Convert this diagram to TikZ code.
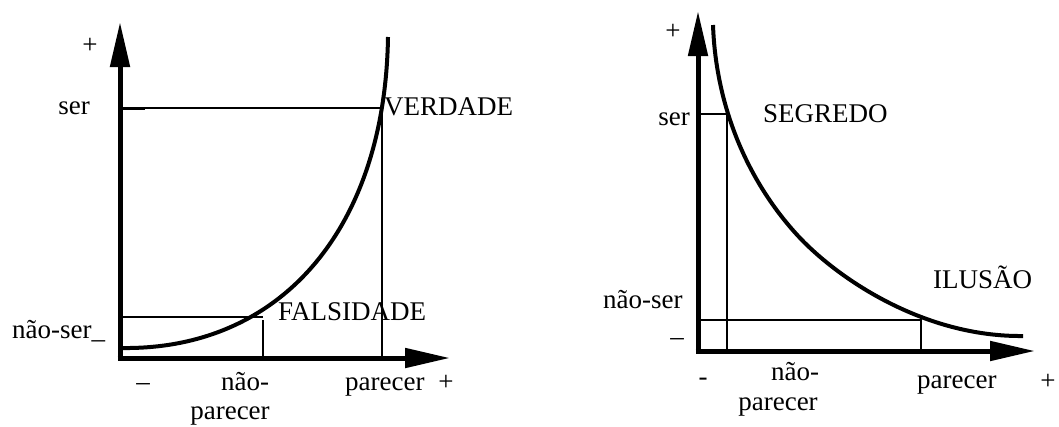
\documentclass[tikz,border=0pt]{standalone}
\usepackage{fontspec}
\setmainfont{Liberation Serif}
\usetikzlibrary{arrows.meta}
\begin{document}
\begin{tikzpicture}[x=1pt,y=-1pt,
  axis/.style={line width=5pt,-{Triangle[length=45pt,width=19pt]}},
  curve/.style={line width=4pt},
  thin/.style={line width=1.6pt},
  lbl/.style={inner sep=0pt,font=\fontsize{27}{30}\selectfont}]
\useasboundingbox (0,0) rectangle (1059,426);
% ---------- left diagram ----------
\coordinate (LO) at (120,358);
\coordinate (LY) at (120,22);
\coordinate (LX) at (450,358);
\coordinate (Lser) at (120,108);
\coordinate (Lv) at (382,108);
\coordinate (Lvb) at (382,358);
\coordinate (Lns) at (120,317);
\coordinate (Lnp) at (263,317);
\coordinate (Lnpb) at (263,358);
\coordinate (Lc0) at (122,348);
\coordinate (Lc1) at (388,37);
\draw[thin] (Lser) -- (Lv) -- (Lvb);
\draw[line width=3pt] (Lser) -- ++(25,0);
\draw[thin,line width=2pt] (Lns) -- (Lnp);
\draw[line width=2.6pt] (Lnp) ++(0,3) -- (Lnpb);
\draw[curve] (Lc0) .. controls (280,350) and (385,230) .. (Lc1);
\draw[axis] (LO) ++(0,2.5) -- (LY);
\draw[axis] (LO) ++(-2.5,0) -- (LX);
\node[lbl] (lplusy) at (90,46) {+};
\node[lbl,anchor=base] (lser) at (74,114) {ser};
\node[lbl,anchor=base west] (verdade) at (384,115) {VERDADE};
\node[lbl,anchor=base west] (lnaoser) at (12,338) {não-ser\_};
\node[lbl,anchor=base west] (falsidade) at (278,320) {FALSIDADE};
\node[lbl,anchor=base] (lminus) at (143,390) {–};
\node[lbl,anchor=base] (lnao) at (245,390) {não-};
\node[lbl,anchor=base] (lparecer1) at (230,419) {parecer};
\node[lbl,anchor=base west] (lparecer2) at (345,390) {parecer};
\node[lbl,anchor=base] (lplusx) at (446,390) {+};
% ---------- right diagram ----------
\coordinate (RO) at (698,351);
\coordinate (RY) at (698,11);
\coordinate (RX) at (1035,351);
\coordinate (Rser) at (698,114);
\coordinate (Rv) at (727,114);
\coordinate (Rvb) at (727,351);
\coordinate (Rns) at (698,320);
\coordinate (Ril) at (921,320);
\coordinate (Rilb) at (921,351);
\coordinate (Rc0) at (713,25);
\coordinate (Rcm) at (800,238);
\coordinate (Rc1) at (1023,336);
\draw[thin] (Rser) -- (Rv) -- (Rvb);
\draw[thin] (Rns) -- (Ril) -- (Rilb);
\draw[curve] (Rc0) .. controls (716,110) and (750,185) .. (Rcm)
  .. controls (840,280) and (925,337) .. (Rc1);
\draw[axis] (RO) ++(0,2.5) -- (RY);
\draw[axis] (RO) ++(-2.5,0) -- (RX);
\node[lbl] (rplusy) at (673,32) {+};
\node[lbl,anchor=base east] (rser) at (690,125) {ser};
\node[lbl,anchor=base west] (segredo) at (763,122) {SEGREDO};
\node[lbl,anchor=base west] (ilusao) at (933,288) {ILUSÃO};
\node[lbl,anchor=base west] (rnaoser) at (603,308) {não-ser};
\node[lbl] (rminusy) at (677,342) {–};
\node[lbl] (rminusx) at (703,382) {-};
\node[lbl,anchor=base] (rnao) at (795,380) {não-};
\node[lbl,anchor=base] (rparecer1) at (778,410) {parecer};
\node[lbl,anchor=base west] (rparecer2) at (917,388) {parecer};
\node[lbl] (rplusx) at (1048,382) {+};
\end{tikzpicture}
\end{document}
